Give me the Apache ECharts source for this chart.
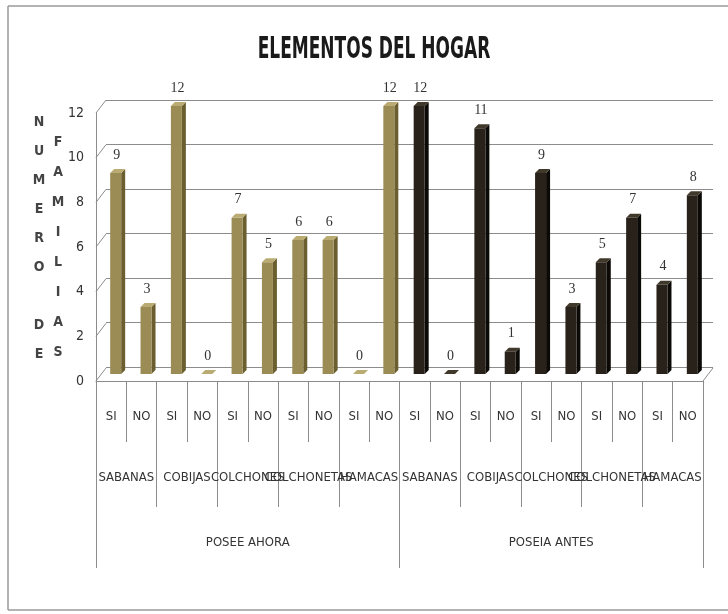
<!DOCTYPE html>
<html>
<head>
<meta charset="utf-8">
<script src="https://cdn.jsdelivr.net/npm/echarts@6/dist/echarts.min.js"></script>
<style>
  html, body { margin: 0; padding: 0; background: #fff; }
  #chart { width: 728px; height: 614px; }
</style>
</head>
<body>
<div id="chart"></div>
<script>
// Elementos del hogar — barras 3D simuladas (cara frontal + lateral + superior)
const NARROW = "'Liberation Sans Narrow', 'DejaVu Sans Condensed', 'Roboto Condensed', sans-serif";

const titulo = 'ELEMENTOS DEL HOGAR';
const respuestas = ['SI', 'NO', 'SI', 'NO', 'SI', 'NO', 'SI', 'NO', 'SI', 'NO',
                    'SI', 'NO', 'SI', 'NO', 'SI', 'NO', 'SI', 'NO', 'SI', 'NO'];
const elementos = ['SABANAS', 'COBIJAS', 'COLCHONES', 'COLCHONETAS', 'HAMACAS',
                   'SABANAS', 'COBIJAS', 'COLCHONES', 'COLCHONETAS', 'HAMACAS'];
const periodos = ['POSEE AHORA', 'POSEIA ANTES'];

const poseeAhora  = [9, 3, 12, 0, 7, 5, 6, 6, 0, 12];   // categorías 0..9
const poseiaAntes = [12, 0, 11, 1, 9, 3, 5, 7, 4, 8];   // categorías 10..19

const yTicks = [0, 2, 4, 6, 8, 10, 12];

const colorsAhora  = { front: '#9b8c56', side: '#6b5f30', top: '#b9ab72' };
const colorsAntes  = { front: '#28221a', side: '#0c0a06', top: '#40382a' };

function bar3d(colors) {
  return function (params, api) {
    const x = api.value(0), v = api.value(1);
    const base = api.coord([x, 0]);
    const top = api.coord([x, v]);
    const w = 11, d = 4;
    const left = base[0] - 6;
    const t = top[1], b = base[1];
    return {
      type: 'group',
      children: [
        { type: 'polygon', shape: { points: [[left + w, t], [left + w + d, t - d], [left + w + d, b - d], [left + w, b]] },
          style: { fill: colors.side } },
        { type: 'rect', shape: { x: left, y: t, width: w, height: b - t },
          style: { fill: colors.front } },
        { type: 'polygon', shape: { points: [[left, t], [left + d, t - d], [left + w + d, t - d], [left + w, t]] },
          style: { fill: colors.top } },
        { type: 'text', x: left + w / 2 + 1, y: t - d - 7,
          style: { text: String(v), fill: '#333', font: "14px 'Liberation Serif', serif",
                   align: 'center', verticalAlign: 'bottom' } },
      ],
    };
  };
}

// líneas de la pared lateral (de la escala frontal a la pared del fondo)
function sideWall(params, api) {
  const v = api.value(1);
  const p = api.coord([0, v]);
  const cs = params.coordSys;
  const kids = [{ type: 'line', shape: { x1: cs.x, y1: p[1], x2: cs.x + 10, y2: p[1] - 13 },
                  style: { stroke: '#8c8c8c', lineWidth: 1 } }];
  if (v === 0) {
    kids.push({ type: 'line', shape: { x1: cs.x + cs.width, y1: p[1], x2: cs.x + cs.width + 10, y2: p[1] - 13 },
                style: { stroke: '#8c8c8c', lineWidth: 1 } });
  }
  return { type: 'group', children: kids };
}

const chart = echarts.init(document.getElementById('chart'));

const borde = { stroke: '#9a9a9a', lineWidth: 1.5 };

chart.setOption({
  backgroundColor: '#fff',
  animation: false,
  graphic: [
    { type: 'line', silent: true, shape: { x1: 8, y1: 6, x2: 728, y2: 6 }, style: borde },
    { type: 'line', silent: true, shape: { x1: 8, y1: 6, x2: 8, y2: 610 }, style: borde },
    { type: 'line', silent: true, shape: { x1: 8, y1: 610, x2: 728, y2: 610 }, style: borde },
    { type: 'text', x: 374, y: 50, scaleX: 0.61,
      style: { text: titulo, font: 'bold 31px ' + NARROW, fill: '#1a1a1a',
               align: 'center', verticalAlign: 'middle' } },
    { type: 'text', x: 39, y: 108,
      style: { text: 'N\nU\nM\nE\nR\nO\n\nD\nE', font: 'bold 14px ' + NARROW, fill: '#444',
               align: 'center', lineHeight: 29 } },
    { type: 'text', x: 58, y: 127,
      style: { text: 'F\nA\nM\nI\nL\nI\nA\nS', font: 'bold 14px ' + NARROW, fill: '#444',
               align: 'center', lineHeight: 30 } },
  ],
  grid: [
    { left: 96, right: 25, top: 113, bottom: 233 },   // plano frontal (ejes)
    { left: 106, right: 15, top: 100, bottom: 247 },  // pared del fondo
    { left: 101, right: 20, top: 106, bottom: 240 },  // barras
  ],
  xAxis: [
    {
      gridIndex: 0, type: 'category', data: respuestas,
      axisLine: { show: true, lineStyle: { color: '#8c8c8c', width: 1 } },
      axisTick: { show: true, interval: 0, length: 61, lineStyle: { color: '#8c8c8c' } },
      axisLabel: { interval: 0, margin: 29, color: '#333', fontFamily: NARROW, fontSize: 13 },
    },
    {
      gridIndex: 0, type: 'category', data: elementos, position: 'bottom',
      axisLine: { show: false },
      axisTick: { show: true, interval: 0, length: 126, lineStyle: { color: '#8c8c8c' } },
      axisLabel: { interval: 0, margin: 90, color: '#333', fontFamily: NARROW, fontSize: 13 },
    },
    {
      gridIndex: 0, type: 'category', data: periodos, position: 'bottom',
      axisLine: { show: false },
      axisTick: { show: true, interval: 0, length: 187, lineStyle: { color: '#8c8c8c' } },
      axisLabel: { interval: 0, margin: 155, color: '#333', fontFamily: NARROW, fontSize: 13 },
    },
    { gridIndex: 1, type: 'category', data: respuestas, show: false },
    { gridIndex: 2, type: 'category', data: respuestas, show: false },
  ],
  yAxis: [
    {
      gridIndex: 0, type: 'value', min: 0, max: 12, interval: 2,
      axisLine: { show: true, lineStyle: { color: '#8c8c8c' } },
      axisTick: { show: false },
      splitLine: { show: false },
      axisLabel: { margin: 12, color: '#333', fontFamily: NARROW, fontSize: 14 },
    },
    {
      gridIndex: 1, type: 'value', min: 0, max: 12, interval: 2,
      axisLine: { show: false }, axisTick: { show: false }, axisLabel: { show: false },
      splitLine: { show: true, lineStyle: { color: '#8c8c8c', width: 1.2 } },
    },
    { gridIndex: 2, type: 'value', min: 0, max: 12, show: false },
  ],
  series: [
    {
      name: 'pared', type: 'custom', xAxisIndex: 0, yAxisIndex: 0,
      data: yTicks.map((v) => [0, v]), renderItem: sideWall, silent: true, z: 1,
    },
    {
      name: 'POSEE AHORA', type: 'custom', xAxisIndex: 4, yAxisIndex: 2,
      data: poseeAhora.map((v, i) => [i, v]), renderItem: bar3d(colorsAhora), z: 3,
    },
    {
      name: 'POSEIA ANTES', type: 'custom', xAxisIndex: 4, yAxisIndex: 2,
      data: poseiaAntes.map((v, i) => [i + 10, v]), renderItem: bar3d(colorsAntes), z: 3,
    },
  ],
});
</script>
</body>
</html>
